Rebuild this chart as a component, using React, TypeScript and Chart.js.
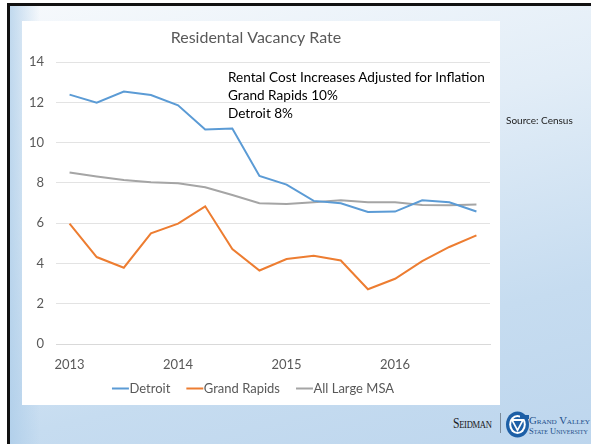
import React, { useEffect, useRef } from "react";
import { Chart, registerables } from "chart.js";

Chart.register(...registerables);

const categories = [
  "2013 Q1", "2013 Q2", "2013 Q3", "2013 Q4",
  "2014 Q1", "2014 Q2", "2014 Q3", "2014 Q4",
  "2015 Q1", "2015 Q2", "2015 Q3", "2015 Q4",
  "2016 Q1", "2016 Q2", "2016 Q3", "2016 Q4",
];
const detroit = [12.39, 11.99, 12.54, 12.37, 11.86, 10.66, 10.71, 8.35, 7.92, 7.11, 6.99, 6.56, 6.58, 7.14, 7.04, 6.58];
const grandRapids = [5.98, 4.32, 3.79, 5.5, 5.98, 6.84, 4.72, 3.65, 4.22, 4.38, 4.15, 2.72, 3.24, 4.12, 4.82, 5.4];
const allLargeMSA = [8.52, 8.32, 8.15, 8.04, 7.99, 7.79, 7.4, 6.99, 6.96, 7.04, 7.14, 7.04, 7.04, 6.91, 6.89, 6.93];
const seriesNames = ["Detroit", "Grand Rapids", "All Large MSA"];
const seriesColors = ["#5b9bd5", "#ed7d31", "#a5a5a5"];
const yTicks = { min: 0, max: 14, step: 2 };
const titleText = "Residental Vacancy Rate";
const noteLines = ["Rental Cost Increases Adjusted for Inflation", "Grand Rapids 10%", "Detroit 8%"];
const sourceText = "Source: Census";

const FONT = "Lato, 'Liberation Sans', sans-serif";
const SERIF = "'Liberation Serif', 'DejaVu Serif', serif";

// lets the x tick labels spill below the (deliberately short) x-axis box
const extendLabelClip = {
  id: "extendLabelClip",
  afterLayout(chart: any) {
    const x = chart.scales.x;
    if (x) x.bottom = x.bottom + 16;
  },
};

function LineChart() {
  const ref = useRef<HTMLCanvasElement | null>(null);
  useEffect(() => {
    if (!ref.current) return;
    const chart = new Chart(ref.current, {
      type: "line",
      data: {
        labels: categories,
        datasets: [detroit, grandRapids, allLargeMSA].map((d, i) => ({
          label: seriesNames[i],
          data: d,
          borderColor: seriesColors[i],
          backgroundColor: seriesColors[i],
          borderWidth: 2,
          pointRadius: 0,
          tension: 0,
          fill: false,
          pointStyle: "line",
        })),
      },
      plugins: [extendLabelClip],
      options: {
        animation: false,
        responsive: false,
        devicePixelRatio: 1,
        layout: { padding: { left: 0, right: 10, top: 0, bottom: 0 } },
        plugins: {
          title: {
            display: true,
            text: titleText,
            color: "#595959",
            font: { family: FONT, size: 16, weight: "normal" },
            padding: { top: 7, bottom: 15 },
          },
          legend: {
            display: true,
            position: "bottom",
            labels: {
              usePointStyle: true,
              boxWidth: 5,
              boxHeight: 12,
              padding: 22,
              color: "#595959",
              font: { family: FONT, size: 13 },
            },
          },
          tooltip: { enabled: false },
        },
        scales: {
          x: {
            type: "category",
            offset: true,
            grid: { display: false, drawTicks: false },
            border: { display: true, color: "#d9d9d9", width: 1 },
            ticks: {
              autoSkip: false,
              maxRotation: 0,
              padding: 14,
              color: "#595959",
              font: { family: FONT, size: 13, lineHeight: 1 },
              callback: (_v: any, idx: number) => (idx % 4 === 0 ? categories[idx].slice(0, 4) : ""),
            },
            afterFit: (s: any) => {
              s.height = 16;
            },
          },
          y: {
            min: yTicks.min,
            max: yTicks.max,
            grid: { color: "#e3e3e3", drawTicks: false },
            border: { display: false },
            ticks: {
              stepSize: yTicks.step,
              padding: 12,
              color: "#595959",
              font: { family: FONT, size: 13 },
            },
            afterFit: (s: any) => {
              s.width = 34;
            },
          },
        },
      },
    });
    return () => chart.destroy();
  }, []);
  return <canvas ref={ref} width={478} height={384} style={{ display: "block", width: 478, height: 384 }} />;
}

function Logo() {
  const sc = { fontFamily: SERIF, fontVariant: "small-caps" as const, whiteSpace: "nowrap" as const, position: "absolute" as const };
  return (
    <div style={{ position: "absolute", left: 452, top: 408, width: 139, height: 36 }}>
      <div
        style={{
          ...sc,
          left: 1,
          top: 7,
          fontSize: 15,
          lineHeight: "16px",
          color: "#1b1b24",
          letterSpacing: -0.4,
          transform: "scaleX(0.78)",
          transformOrigin: "left center",
        }}
      >
        Seidman
      </div>
      <div style={{ position: "absolute", left: 48, top: 5, width: 1, height: 20, background: "#7a8a9a" }} />
      <svg style={{ position: "absolute", left: 54, top: 3 }} width={23} height={27} viewBox="0 0 23 27">
        <ellipse cx={11.5} cy={13.5} rx={11.5} ry={13} fill="#1d5fa6" />
        <ellipse cx={11.5} cy={13.5} rx={8.3} ry={9.6} fill="#ffffff" />
        <ellipse cx={11.5} cy={13.5} rx={6.3} ry={7.4} fill="#1d5fa6" />
        <polygon points="4.5,8 18.5,8 11.5,21" fill="#ffffff" />
        <polygon points="7.5,10 15.5,10 11.5,17.5" fill="#1d5fa6" />
        <rect x={14} y={4} width={9} height={4} fill="#1d5fa6" />
      </svg>
      <div
        style={{
          ...sc,
          left: 77,
          top: 8,
          fontSize: 10.5,
          lineHeight: "10px",
          color: "#1d4f8a",
          letterSpacing: -0.1,
          transform: "scaleX(1.03)",
          transformOrigin: "left center",
        }}
      >
        Grand Valley
      </div>
      <div
        style={{
          ...sc,
          left: 77,
          top: 18.5,
          fontSize: 8.5,
          lineHeight: "8px",
          color: "#1d4f8a",
          letterSpacing: 0,
          transform: "scaleX(1.0)",
          transformOrigin: "left center",
        }}
      >
        State University
      </div>
    </div>
  );
}

export default function App() {
  useEffect(() => {
    document.body.style.margin = "0";
  }, []);
  return (
    <div
      style={{
        position: "absolute",
        left: 0,
        top: 0,
        width: 591,
        height: 444,
        overflow: "hidden",
        background: "#ffffff",
      }}
    >
      <div
        style={{
          position: "absolute",
          left: 7,
          top: 3,
          width: 600,
          height: 460,
          boxSizing: "border-box",
          borderLeft: "3px solid #111",
          borderTop: "3px solid #111",
          background: "linear-gradient(165deg, #f6f9fc 0%, #e2edf7 35%, #c6dcf0 70%, #bcd5ed 100%)",
        }}
      />
      <div
        style={{
          position: "absolute",
          left: 10,
          top: 6,
          width: 30,
          height: 440,
          background: "linear-gradient(90deg, rgba(170,203,232,0.7), rgba(170,203,232,0))",
        }}
      />
      <div style={{ position: "absolute", left: 22, top: 21, width: 478, height: 384, background: "#ffffff" }}>
        <LineChart />
      </div>
      <div
        style={{
          position: "absolute",
          left: 228,
          top: 68,
          fontFamily: FONT,
          fontSize: 13.6,
          lineHeight: "18px",
          color: "#000000",
          whiteSpace: "nowrap",
        }}
      >
        {noteLines.map((l, i) => (
          <div key={i}>{l}</div>
        ))}
      </div>
      <div
        style={{
          position: "absolute",
          left: 506,
          top: 114,
          fontFamily: FONT,
          fontSize: 10,
          lineHeight: "12px",
          color: "#222",
          whiteSpace: "nowrap",
        }}
      >
        {sourceText}
      </div>
      <Logo />
    </div>
  );
}
